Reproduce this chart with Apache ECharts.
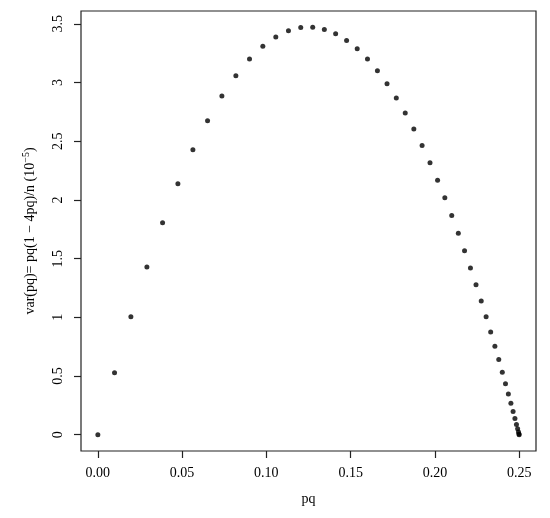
<!DOCTYPE html>
<html>
<head>
<meta charset="utf-8">
<script src="https://cdn.jsdelivr.net/npm/echarts@6/dist/echarts.min.js"></script>
<style>
    html, body {margin: 0; padding: 0; background: #fff;}
</style>
</head>
<body>
<div id="main" style="width: 550px;height: 518px"></div>
<script>
    // pq 取值 (p = 0 ... 0.5)
    const pq = [0, 0.0099, 0.0196, 0.0291, 0.0384, 0.0475, 0.0564, 0.0651, 0.0736, 0.0819,
        0.09, 0.0979, 0.1056, 0.1131, 0.1204, 0.1275, 0.1344, 0.1411, 0.1476, 0.1539,
        0.16, 0.1659, 0.1716, 0.1771, 0.1824, 0.1875, 0.1924, 0.1971, 0.2016, 0.2059,
        0.21, 0.2139, 0.2176, 0.2211, 0.2244, 0.2275, 0.2304, 0.2331, 0.2356, 0.2379,
        0.24, 0.2419, 0.2436, 0.2451, 0.2464, 0.2475, 0.2484, 0.2491, 0.2496, 0.2499, 0.25];
    // var(pq) 单位 10^-5
    const variance = [0, 0.528, 1.004, 1.429, 1.806, 2.138, 2.427, 2.675, 2.885, 3.059,
        3.2, 3.309, 3.389, 3.441, 3.468, 3.471, 3.453, 3.415, 3.359, 3.287,
        3.2, 3.101, 2.990, 2.869, 2.740, 2.604, 2.463, 2.317, 2.168, 2.018,
        1.867, 1.716, 1.567, 1.420, 1.277, 1.138, 1.004, 0.875, 0.754, 0.640,
        0.533, 0.435, 0.347, 0.267, 0.197, 0.138, 0.088, 0.050, 0.022, 0.006, 0];
    const xTicks = [0, 0.05, 0.1, 0.15, 0.2, 0.25];
    const xTickLabels = ['0.00', '0.05', '0.10', '0.15', '0.20', '0.25'];
    const yTicks = [0, 0.5, 1, 1.5, 2, 2.5, 3, 3.5];

    const font = 'Liberation Serif';
    let myChart = echarts.init(document.getElementById('main'));
    let option = {
        animation: false,
        grid: {
            left: 81, top: 11, right: 14, bottom: 67,
            show: true,
            borderColor: '#222',
            borderWidth: 1.2
        },
        xAxis: {
            type: 'value',
            min: -0.01,
            max: 0.26,
            name: 'pq',
            nameLocation: 'middle',
            nameGap: 41,
            nameTextStyle: {fontFamily: font, fontSize: 14, color: '#000'},
            axisLine: {show: false, onZero: false},
            splitLine: {show: false},
            axisTick: {show: true, length: 7, customValues: xTicks, lineStyle: {color: '#222', width: 1.2}},
            axisLabel: {
                customValues: xTicks,
                margin: 15,
                fontFamily: font, fontSize: 14, color: '#000',
                formatter: v => xTickLabels[xTicks.indexOf(+v.toFixed(2))]
            }
        },
        yAxis: {
            type: 'value',
            min: -0.1388,
            max: 3.6096,
            name: 'var(pq)= pq(1 − 4pq)/n (10{sup|−5})',
            nameLocation: 'middle',
            nameRotate: 90,
            nameGap: 42,
            nameTextStyle: {
                fontFamily: font, fontSize: 14, color: '#000',
                rich: {sup: {fontFamily: font, fontSize: 10, color: '#000', verticalAlign: 'top', padding: [0, 0, 8, 0]}}
            },
            axisLine: {show: false, onZero: false},
            splitLine: {show: false},
            axisTick: {show: true, length: 7, customValues: yTicks, lineStyle: {color: '#222', width: 1.2}},
            axisLabel: {
                customValues: yTicks,
                rotate: 90,
                margin: 16,
                fontFamily: font, fontSize: 14, color: '#000',
                formatter: v => String(+v.toFixed(1))
            }
        },
        series: [{
            type: 'scatter',
            symbol: 'circle',
            symbolSize: 5,
            itemStyle: {color: '#000'},
            data: pq.map((x, i) => [x, variance[i]])
        }]
    };
    myChart.setOption(option);
</script>
</body>
</html>
